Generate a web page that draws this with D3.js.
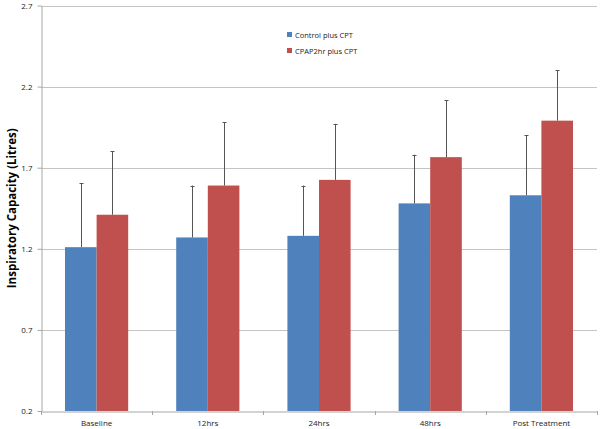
<!DOCTYPE html>
<html><head><meta charset="utf-8">
<script src="https://cdn.jsdelivr.net/npm/d3@7"></script>
<style>body{margin:0;background:#fff}svg{display:block}</style>
</head><body><svg id="c" width="600" height="429"></svg>
<script>
const categories = ["Baseline","12hrs","24hrs","48hrs","Post Treatment"];
const seriesNames = ["Control plus CPT","CPAP2hr plus CPT"];
const controlValues = [1.21, 1.27, 1.28, 1.48, 1.53];
const controlErrTop = [1.605, 1.59, 1.59, 1.78, 1.90];
const cpapValues = [1.41, 1.59, 1.625, 1.765, 1.99];
const cpapErrTop = [1.80, 1.98, 1.97, 2.115, 2.30];
const yTicks = [0.2, 0.7, 1.2, 1.7, 2.2, 2.7];
const colors = ["#4F81BD","#C0504D"];

const svg = d3.select("#c");
const L = 41, R = 597, T = 5.5, B = 411;
const x = d3.scaleBand().domain(categories).range([L, R]).padding(0);
const y = d3.scaleLinear().domain([0.2, 2.7]).range([B, T]);
const xs = d3.scaleBand().domain([0,1]).range([0, x.bandwidth()]).paddingInner(0).paddingOuter(0.76);

const font = "'Open Sans', 'DejaVu Sans', sans-serif";

// gridlines
svg.append("g").selectAll("line").data(yTicks.slice(1)).join("line")
  .attr("x1", L).attr("x2", R)
  .attr("y1", d => Math.round(y(d)) + 0.5).attr("y2", d => Math.round(y(d)) + 0.5)
  .attr("stroke", "#c4c4c4").attr("stroke-width", 1);

// y axis
const yAxis = svg.append("g").attr("transform", `translate(${L + 0.5},0)`)
  .call(d3.axisLeft(y).tickValues(yTicks).tickFormat(d3.format(".1f")).tickSize(4).tickSizeOuter(0));
yAxis.select(".domain").attr("stroke", "#a6a6a6");
yAxis.selectAll(".tick line").attr("stroke", "#a6a6a6");
yAxis.selectAll("text").attr("font-family", font).attr("font-size", 8).attr("fill", "#222").attr("x", -9);

// bars
const series = [
  {vals: controlValues, err: controlErrTop},
  {vals: cpapValues, err: cpapErrTop}
];
series.forEach((s, si) => {
  const g = svg.append("g");
  g.selectAll("rect").data(categories).join("rect")
    .attr("x", d => x(d) + xs(si))
    .attr("width", xs.bandwidth())
    .attr("y", (d, i) => y(s.vals[i]))
    .attr("height", (d, i) => B - y(s.vals[i]))
    .attr("fill", colors[si]);
});
// error bars
series.forEach((s, si) => {
  const g = svg.append("g").attr("stroke", "#555").attr("stroke-width", 1);
  categories.forEach((c, i) => {
    const cx = Math.round(x(c) + xs(si) + xs.bandwidth() / 2) + 0.5;
    g.append("line").attr("x1", cx).attr("x2", cx).attr("y1", y(s.vals[i])).attr("y2", y(s.err[i]));
    g.append("line").attr("x1", cx - 2).attr("x2", cx + 2).attr("y1", Math.round(y(s.err[i])) + 0.5).attr("y2", Math.round(y(s.err[i])) + 0.5);
  });
});

// x axis
const xAxis = svg.append("g").attr("transform", `translate(0,${B + 0.5})`)
  .call(d3.axisBottom(x).tickSize(0).tickSizeOuter(0));
xAxis.select(".domain").attr("stroke", "#a6a6a6");
xAxis.selectAll("text").attr("font-family", font).attr("font-size", 8).attr("fill", "#222").attr("dy", "0").attr("y", 14);
const tickPos = categories.map(c => x(c)).concat([R]);
svg.append("g").selectAll("line").data(tickPos).join("line")
  .attr("x1", d => Math.round(d) + 0.5).attr("x2", d => Math.round(d) + 0.5)
  .attr("y1", B).attr("y2", B + 4).attr("stroke", "#a6a6a6");

// y label
svg.append("text").attr("transform", `translate(16,${(T + B) / 2}) rotate(-90)`)
  .attr("text-anchor", "middle").attr("font-family", font).attr("font-weight", "bold")
  .attr("font-size", 11.5).attr("fill", "#000").text("Inspiratory Capacity (Litres)");

// legend
const lg = svg.append("g");
seriesNames.forEach((n, i) => {
  const yy = 35 + i * 16;
  lg.append("rect").attr("x", 287).attr("y", yy - 3).attr("width", 5).attr("height", 5).attr("fill", colors[i]);
  lg.append("text").attr("x", 295).attr("y", yy + 3).attr("font-family", font).attr("font-size", 7.5)
    .attr("fill", "#222").text(n);
});
</script></body></html>
